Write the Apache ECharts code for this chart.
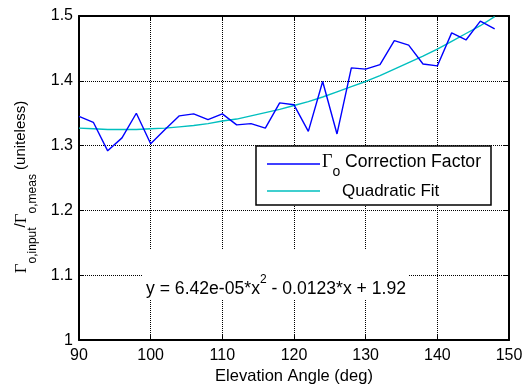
<!DOCTYPE html>
<html>
<head>
<meta charset="utf-8">
<script src="https://cdn.jsdelivr.net/npm/echarts@6/dist/echarts.min.js"></script>
<style>
  html, body { margin: 0; padding: 0; background: #fff; }
  #chart { width: 530px; height: 390px; }
</style>
</head>
<body>
<div id="chart"></div>
<script>
// elevation angles (deg)
const angles = [90, 92, 94, 96, 98, 100, 102, 104, 106, 108, 110, 112, 114, 116, 118,
  120, 122, 124, 126, 128, 130, 132, 134, 136, 138, 140, 142, 144, 146, 148];
// measured correction factor
const correction = [1.345, 1.336, 1.292, 1.312, 1.350, 1.303, 1.325, 1.346, 1.349, 1.340,
  1.349, 1.332, 1.334, 1.327, 1.366, 1.363, 1.322, 1.399, 1.318, 1.420,
  1.418, 1.425, 1.462, 1.455, 1.426, 1.423, 1.474, 1.463, 1.492, 1.480];
// quadratic fit values
const quadFit = [1.327, 1.326, 1.325, 1.325, 1.325, 1.326, 1.327, 1.329, 1.331, 1.334,
  1.338, 1.341, 1.346, 1.351, 1.356, 1.362, 1.368, 1.375, 1.383, 1.391,
  1.399, 1.408, 1.418, 1.428, 1.438, 1.449, 1.461, 1.473, 1.485, 1.499];

const sans = "'Liberation Sans', Arial, sans-serif";
const serif = "'Liberation Serif', 'DejaVu Serif', serif";

const chart = echarts.init(document.getElementById('chart'));

const axisLine = { show: true, lineStyle: { color: '#000', width: 2 } };
const tick = { show: true, inside: true, length: 5, lineStyle: { color: '#000' } };
const dotted = { show: true, lineStyle: { color: '#000', type: [1, 1], width: 1 } };

const option = {
  animation: false,
  backgroundColor: '#fff',
  grid: { left: 79, right: 21, top: 16, bottom: 46 },
  xAxis: [
    {
      type: 'value', min: 90, max: 150, interval: 10,
      axisLine, axisTick: tick, splitLine: dotted,
      axisLabel: { color: '#000', fontFamily: sans, fontSize: 16, margin: 7 },
      name: 'Elevation Angle (deg)', nameLocation: 'middle', nameGap: 27,
      nameTextStyle: { color: '#000', fontFamily: sans, fontSize: 16.5 }
    },
    {
      type: 'value', position: 'top', min: 90, max: 150, interval: 10,
      axisLine, axisTick: tick, splitLine: { show: false }, axisLabel: { show: false }
    }
  ],
  yAxis: [
    {
      type: 'value', min: 1, max: 1.5, interval: 0.1,
      axisLine, axisTick: tick, splitLine: dotted,
      axisLabel: {
        color: '#000', fontFamily: sans, fontSize: 16, margin: 6,
        formatter: v => String(Math.round(v * 10) / 10)
      }
    },
    {
      type: 'value', position: 'right', min: 1, max: 1.5, interval: 0.1,
      axisLine, axisTick: tick, splitLine: { show: false }, axisLabel: { show: false }
    }
  ],
  series: [
    {
      name: 'Correction Factor', type: 'line', showSymbol: false,
      lineStyle: { color: '#0000ff', width: 1.4 },
      data: angles.map((a, i) => [a, correction[i]]),
      z: 3
    },
    {
      name: 'Quadratic Fit', type: 'line', showSymbol: false,
      lineStyle: { color: '#00bfbf', width: 1.4 },
      data: angles.map((a, i) => [a, quadFit[i]]),
      z: 2
    }
  ],
  graphic: [
    // equation box
    { type: 'rect', z: 10, shape: { x: 143, y: 249, width: 266, height: 50 }, style: { fill: '#fff' } },
    {
      type: 'text', z: 11, x: 146, y: 286,
      style: {
        text: '{m|y = 6.42e-05*x}{p|2}{m| - 0.0123*x + 1.92}',
        verticalAlign: 'middle', align: 'left',
        rich: {
          m: { fontFamily: sans, fontSize: 17.6, color: '#000', lineHeight: 24, verticalAlign: 'bottom' },
          p: { fontFamily: sans, fontSize: 12, color: '#000', lineHeight: 12, verticalAlign: 'top' }
        }
      }
    },
    // legend
    { type: 'rect', z: 10, shape: { x: 256, y: 146, width: 235, height: 59 }, style: { fill: '#fff', stroke: '#000', lineWidth: 1.5 } },
    { type: 'line', z: 11, shape: { x1: 267, y1: 164, x2: 320, y2: 164 }, style: { stroke: '#0000ff', lineWidth: 1.4 } },
    { type: 'line', z: 11, shape: { x1: 267, y1: 191, x2: 320, y2: 191 }, style: { stroke: '#00bfbf', lineWidth: 1.4 } },
    {
      type: 'text', z: 11, x: 322, y: 166,
      style: {
        text: '{g|Γ}{s|o}{m| Correction Factor}',
        verticalAlign: 'middle', align: 'left',
        rich: {
          g: { fontFamily: serif, fontSize: 18, color: '#000', lineHeight: 20, verticalAlign: 'top' },
          m: { fontFamily: sans, fontSize: 17.6, color: '#000', lineHeight: 20, verticalAlign: 'top' },
          s: { fontFamily: sans, fontSize: 14, color: '#000', lineHeight: 26, verticalAlign: 'bottom' }
        }
      }
    },
    {
      type: 'text', z: 11, x: 342, y: 191,
      style: { text: 'Quadratic Fit', font: '17px ' + sans, fill: '#000', verticalAlign: 'middle', align: 'left' }
    },
    // y axis title
    {
      type: 'text', z: 11, x: 26, y: 187, rotation: Math.PI / 2,
      style: {
        text: '{g|Γ}{s|o,input}{m|/}{g|Γ}{s|o,meas}{m| (uniteless)}',
        verticalAlign: 'middle', align: 'center',
        rich: {
          g: { fontFamily: serif, fontSize: 17, color: '#000', lineHeight: 19, verticalAlign: 'top' },
          m: { fontFamily: sans, fontSize: 15, color: '#000', lineHeight: 19, verticalAlign: 'top' },
          s: { fontFamily: sans, fontSize: 12, color: '#000', lineHeight: 25, verticalAlign: 'bottom' }
        }
      }
    }
  ]
};

chart.setOption(option);
</script>
</body>
</html>
